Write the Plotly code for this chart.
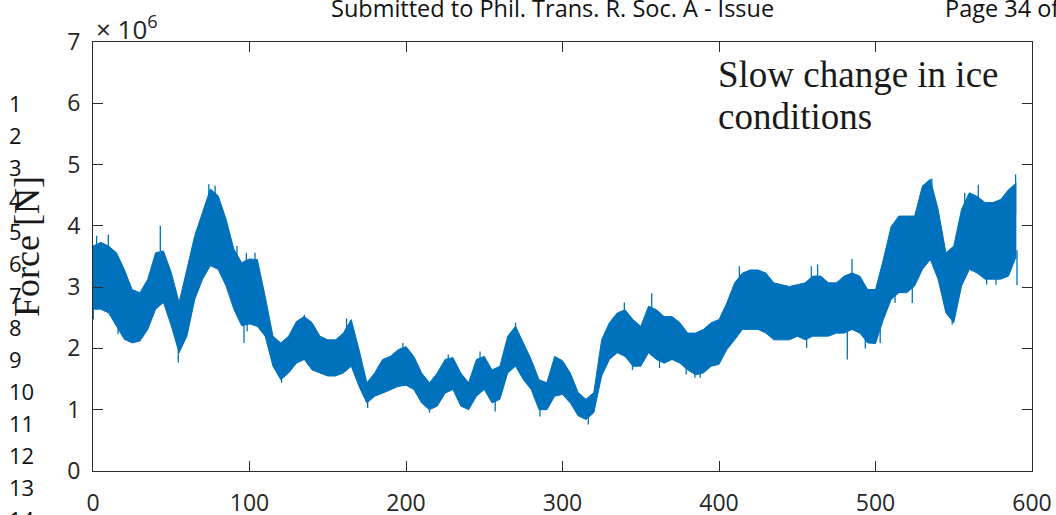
import plotly.graph_objects as go

# Time axis [s] of the envelope samples
t = list(range(0, 595, 5))

# Upper and lower envelope of the measured ice force [MN]
force_hi = [
    3.67, 3.73, 3.67, 3.56, 3.29, 2.96, 2.91, 3.13, 3.56, 3.59,
    3.24, 2.75, 3.29, 3.84, 4.22, 4.60, 4.49, 4.11, 3.62, 3.40,
    3.46, 3.45, 2.85, 2.20, 2.09, 2.20, 2.44, 2.52, 2.42, 2.20,
    2.14, 2.14, 2.25, 2.47, 1.98, 1.44, 1.60, 1.82, 1.87, 1.98,
    2.03, 1.87, 1.60, 1.44, 1.60, 1.82, 1.85, 1.60, 1.44, 1.82,
    1.87, 1.65, 1.71, 2.20, 2.36, 2.09, 1.82, 1.49, 1.44, 1.87,
    1.80, 1.60, 1.28, 1.17, 1.28, 2.14, 2.42, 2.58, 2.63, 2.47,
    2.36, 2.69, 2.63, 2.52, 2.52, 2.42, 2.25, 2.25, 2.31, 2.42,
    2.47, 2.74, 3.07, 3.23, 3.28, 3.28, 3.23, 3.07, 3.04, 3.01,
    3.04, 3.07, 3.18, 3.18, 3.07, 3.07, 3.18, 3.23, 3.18, 2.96,
    2.96, 3.45, 3.99, 4.16, 4.16, 4.16, 4.65, 4.76, 4.27, 3.56,
    3.67, 4.27, 4.54, 4.48, 4.38, 4.38, 4.43, 4.59, 4.70,
]
force_lo = [
    2.64, 2.64, 2.58, 2.37, 2.15, 2.09, 2.12, 2.31, 2.64, 2.75,
    2.37, 1.93, 2.20, 2.80, 3.13, 3.35, 3.29, 3.02, 2.64, 2.37,
    2.40, 2.36, 2.20, 1.71, 1.49, 1.60, 1.76, 1.82, 1.65, 1.60,
    1.55, 1.55, 1.60, 1.71, 1.38, 1.11, 1.22, 1.27, 1.33, 1.38,
    1.40, 1.33, 1.11, 1.00, 1.06, 1.27, 1.33, 1.06, 1.00, 1.22,
    1.33, 1.11, 1.17, 1.60, 1.71, 1.49, 1.33, 1.00, 1.00, 1.22,
    1.25, 1.11, 0.90, 0.84, 0.95, 1.55, 1.82, 1.93, 1.87, 1.71,
    1.71, 1.93, 1.82, 1.76, 1.82, 1.76, 1.65, 1.57, 1.60, 1.71,
    1.74, 1.98, 2.14, 2.31, 2.31, 2.31, 2.25, 2.14, 2.14, 2.14,
    2.20, 2.14, 2.20, 2.20, 2.20, 2.25, 2.25, 2.31, 2.25, 2.09,
    2.08, 2.47, 2.80, 2.91, 2.91, 3.02, 3.29, 3.45, 3.13, 2.58,
    2.42, 3.02, 3.29, 3.23, 3.13, 3.13, 3.13, 3.18, 3.51,
]

# Isolated peaks sticking out of the band: time [s], start and end force [MN]
spike_t = [
    0.2, 2.3, 9.8, 16, 43, 54.5, 74, 78, 92, 96.5, 98, 98.5, 103.5,
    120.5, 135, 162, 175.5, 198, 215, 227, 247.3, 257, 270, 285.6,
    316.5, 339.5, 344.7, 357, 362, 379, 384.6, 388, 413, 456, 459,
    463, 482, 485, 493.5, 503, 512.5, 523.5, 530.6, 536, 549, 557,
    565.7, 571, 577, 589.5, 590.4,
]
spike_from = [
    3.0, 3.2, 3.2, 2.8, 3.2, 2.3, 4.0, 4.0, 3.1, 2.8, 3.0, 2.8, 3.0,
    1.8, 2.1, 2.0, 1.3, 1.7, 1.2, 1.5, 1.5, 1.4, 2.0, 1.2,
    1.0, 2.2, 2.0, 2.3, 2.0, 1.9, 1.9, 1.9, 2.7, 2.6, 2.7,
    2.7, 2.6, 2.8, 2.6, 2.6, 3.3, 3.4, 4.0, 4.2, 2.9, 4.0,
    4.0, 3.6, 3.6, 4.2, 3.6,
]
spike_to = [
    2.47, 3.84, 3.86, 2.23, 4.00, 1.77, 4.68, 4.66, 3.67, 2.09, 3.56, 2.28, 3.56,
    1.44, 2.55, 2.49, 1.03, 2.09, 0.95, 1.90, 1.95, 0.97, 2.42, 0.89,
    0.76, 2.75, 1.65, 2.90, 1.68, 1.57, 1.52, 1.52, 3.34, 2.01, 3.34,
    3.37, 1.82, 3.46, 2.00, 2.09, 2.74, 2.74, 4.67, 4.77, 2.39, 4.54,
    4.67, 3.04, 3.04, 4.84, 3.03,
]

x_ticks = [0, 100, 200, 300, 400, 500, 600]
y_ticks = [0, 1, 2, 3, 4, 5, 6, 7]

SCALE = 1e6
BLUE = "#0072BD"
AXIS = "#2b2b2b"
SANS = "Open Sans"
SERIF = "Liberation Serif"

W, H = 1056, 515
ML, MR, MT, MB = 93, 24, 42, 44
PW, PH = W - ML - MR, H - MT - MB


def px(xp):
    return (xp - ML) / PW


def py(yp):
    return (H - MB - yp) / PH


fig = go.Figure()

fig.add_trace(go.Scatter(
    x=t, y=[v * SCALE for v in force_lo], mode="lines",
    line=dict(color=BLUE, width=1), hoverinfo="skip", showlegend=False,
))
fig.add_trace(go.Scatter(
    x=t, y=[v * SCALE for v in force_hi], mode="lines",
    line=dict(color=BLUE, width=1), fill="tonexty", fillcolor=BLUE,
    hoverinfo="skip", showlegend=False,
))

sx, sy = [], []
for ts, a, b in zip(spike_t, spike_from, spike_to):
    sx += [ts, ts, None]
    sy += [a * SCALE, b * SCALE, None]
fig.add_trace(go.Scatter(
    x=sx, y=sy, mode="lines", line=dict(color=BLUE, width=1.3),
    hoverinfo="skip", showlegend=False,
))

axis_common = dict(
    showline=True, linecolor=AXIS, linewidth=1, mirror="allticks",
    ticks="inside", ticklen=10, tickwidth=1, tickcolor=AXIS,
    showgrid=False, zeroline=False, automargin=False,
    tickfont=dict(family=SANS, size=23, color="#262626"),
)

fig.update_xaxes(
    range=[0, 600], tickvals=x_ticks, ticktext=[str(v) for v in x_ticks],
    ticklabelstandoff=11, **axis_common,
)
fig.update_yaxes(
    range=[0, 7 * SCALE], tickvals=[v * SCALE for v in y_ticks],
    ticktext=[str(v) for v in y_ticks], ticklabelstandoff=7, **axis_common,
)

annotations = []

# exponent of the force axis
annotations.append(dict(
    text="× 10<sup>6</sup>", x=px(94), y=py(28), xref="paper", yref="paper",
    xanchor="left", yanchor="middle", showarrow=False,
    font=dict(family=SANS, size=26, color="#262626"),
))

# axis title
annotations.append(dict(
    text="Force [N]", x=px(27), y=py(247), xref="paper", yref="paper",
    xanchor="center", yanchor="middle", textangle=-90, showarrow=False,
    font=dict(family=SERIF, size=36, color="#1a1a1a"),
))

# in-plot note
for line, yb in [("Slow change in ice", 74), ("conditions", 116)]:
    annotations.append(dict(
        text=line, x=px(716), y=py(yb), xref="paper", yref="paper",
        xanchor="left", yanchor="middle", showarrow=False,
        font=dict(family=SERIF, size=37, color="#1a1a1a"),
    ))

# page header
annotations.append(dict(
    text="Submitted to Phil. Trans. R. Soc. A - Issue", x=px(329), y=py(8),
    xref="paper", yref="paper", xanchor="left", yanchor="middle",
    showarrow=False, font=dict(family=SANS, size=23.5, color="#111111"),
))
annotations.append(dict(
    text="Page 34 of", x=px(943), y=py(8),
    xref="paper", yref="paper", xanchor="left", yanchor="middle",
    showarrow=False, font=dict(family=SANS, size=23.5, color="#111111"),
))

# manuscript line numbers in the margin
for n in range(1, 15):
    annotations.append(dict(
        text=str(n), x=px(7), y=py(103 + 32 * (n - 1)),
        xref="paper", yref="paper", xanchor="left", yanchor="middle",
        showarrow=False, font=dict(family=SANS, size=22, color="#111111"),
    ))

fig.update_layout(
    width=W, height=H, margin=dict(l=ML, r=MR, t=MT, b=MB, pad=0),
    paper_bgcolor="white", plot_bgcolor="white",
    annotations=annotations, showlegend=False,
)

fig.write_html("out.html", config=dict(displayModeBar=False))
